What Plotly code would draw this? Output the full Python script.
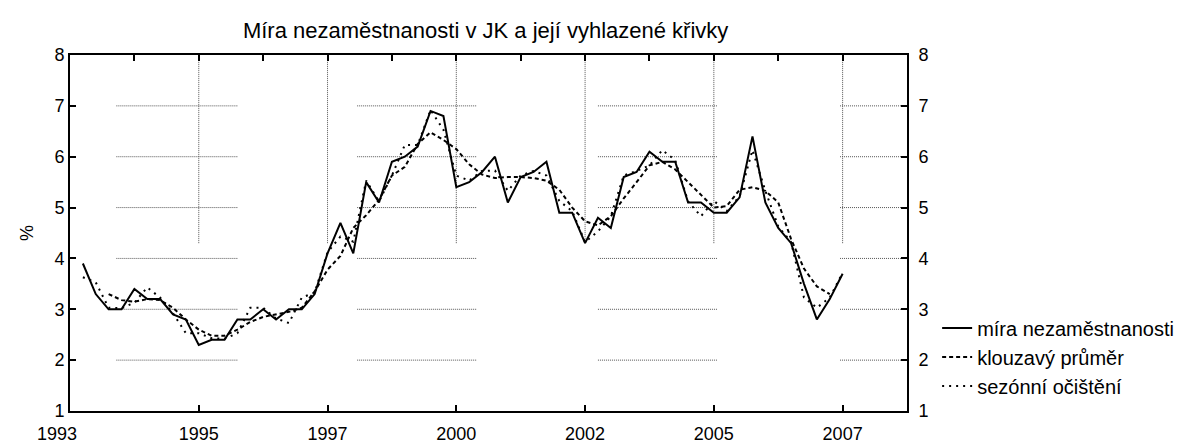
import plotly.graph_objects as go

# ---- data (quarterly observations, index 1..60) ----
obs_index = list(range(1, 61))
mira = [3.9, 3.3, 3.0, 3.0, 3.4, 3.2, 3.2, 2.9, 2.8, 2.3,
        2.4, 2.4, 2.8, 2.8, 3.0, 2.8, 3.0, 3.0, 3.3, 4.1,
        4.7, 4.1, 5.5, 5.1, 5.9, 6.0, 6.2, 6.9, 6.8, 5.4,
        5.5, 5.7, 6.0, 5.1, 5.6, 5.7, 5.9, 4.9, 4.9, 4.3,
        4.8, 4.6, 5.6, 5.7, 6.1, 5.9, 5.9, 5.1, 5.1, 4.9,
        4.9, 5.2, 6.4, 5.1, 4.6, 4.3, 3.5, 2.8, 3.2, 3.7]

ma_index = list(range(3, 60))
klouzavy = [3.30, 3.18, 3.15, 3.20, 3.18, 3.03, 2.80, 2.60, 2.48, 2.48,
            2.60, 2.75, 2.85, 2.90, 2.95, 3.03, 3.35, 3.78, 4.05, 4.60,
            4.85, 5.15, 5.63, 5.80, 6.25, 6.48, 6.33, 6.15, 5.85, 5.65,
            5.58, 5.60, 5.60, 5.58, 5.53, 5.35, 5.00, 4.73, 4.65, 4.83,
            5.18, 5.50, 5.83, 5.90, 5.75, 5.50, 5.25, 5.00, 5.03, 5.35,
            5.40, 5.33, 5.10, 4.38, 3.80, 3.45, 3.30]

sezonni = [3.63, 3.53, 3.03, 3.02, 3.13, 3.43, 3.23, 2.92, 2.53, 2.53,
           2.43, 2.42, 2.53, 3.03, 3.03, 2.82, 2.73, 3.23, 3.33, 4.12,
           4.43, 4.33, 5.53, 5.12, 5.63, 6.23, 6.23, 6.92, 6.53, 5.63,
           5.53, 5.72, 5.73, 5.33, 5.63, 5.72, 5.63, 5.13, 4.93, 4.32,
           4.53, 4.83, 5.63, 5.72, 5.83, 6.13, 5.93, 5.12, 4.83, 5.13,
           4.93, 5.22, 6.13, 5.33, 4.63, 4.32, 3.23, 3.03, 3.23, 3.72]

x_tickvals = [0, 10, 20, 30, 40, 50, 60]
x_ticktext = ["1993", "1995", "1997", "2000", "2002", "2005", "2007"]
y_ticks = [1, 2, 3, 4, 5, 6, 7, 8]

# partial grid (as in the reference)
grid_y = [2, 3, 4, 5, 6, 7]
grid_x_segments = [(3.6, 13.0), (22.3, 31.6), (41.0, 50.3), (59.8, 65.0)]
vgrid_x = [10, 20, 30, 40, 50, 60]
vgrid_from = 4.3

FONT = "Liberation Sans, Arial, sans-serif"

fig = go.Figure()
fig.add_trace(go.Scatter(x=obs_index, y=mira, mode="lines", name="míra nezaměstnanosti",
                         line=dict(color="black", width=2)))
fig.add_trace(go.Scatter(x=ma_index, y=klouzavy, mode="lines", name="klouzavý průměr",
                         line=dict(color="black", width=2, dash="4px,3px")))
fig.add_trace(go.Scatter(x=obs_index, y=sezonni, mode="lines", name="sezónní očištění",
                         line=dict(color="black", width=2, dash="2px,5px")))
# invisible trace to activate right / top axes
fig.add_trace(go.Scatter(x=obs_index, y=mira, xaxis="x2", yaxis="y2", mode="lines",
                         line=dict(color="rgba(0,0,0,0)"), showlegend=False, hoverinfo="skip"))

shapes = []
for gy in grid_y:
    for (a, b) in grid_x_segments:
        shapes.append(dict(type="line", xref="x", yref="y", x0=a, x1=b, y0=gy, y1=gy,
                           line=dict(color="#555555", width=1, dash="1px,1px"), layer="below"))
for gx in vgrid_x:
    shapes.append(dict(type="line", xref="x", yref="y", x0=gx, x1=gx, y0=vgrid_from, y1=8,
                       line=dict(color="#555555", width=1, dash="1px,1px"), layer="below"))

axis_common = dict(showline=True, linecolor="black", linewidth=2, ticks="inside",
                   ticklen=6, tickwidth=1.5, tickcolor="black", showgrid=False, zeroline=False,
                   automargin=False,
                   tickfont=dict(family=FONT, size=18, color="black"))

# first x label sits slightly left of the corner in the reference
bottom_text = [""] + x_ticktext[1:]

fig.update_layout(
    width=1200, height=447,
    paper_bgcolor="white", plot_bgcolor="white",
    margin=dict(l=62, r=301, t=47, b=44),
    title=dict(text="Míra nezaměstnanosti v JK a její vyhlazené křivky", x=0.398, xanchor="center",
               y=0.949, yanchor="middle", font=dict(family=FONT, size=22, color="black")),
    xaxis=dict(range=[0, 65], tickmode="array", tickvals=x_tickvals, ticktext=bottom_text,
               ticklabelstandoff=5, **axis_common),
    xaxis2=dict(range=[0, 65], overlaying="x", side="top", tickmode="array",
                tickvals=list(range(0, 66, 5)), showticklabels=False, **axis_common),
    yaxis=dict(range=[1, 8], tickmode="array", tickvals=y_ticks,
               title=dict(text="%", font=dict(family=FONT, size=18, color="black"), standoff=16),
               **axis_common),
    yaxis2=dict(range=[1, 8], overlaying="y", side="right", tickmode="array", tickvals=y_ticks,
                ticklabelstandoff=6, **axis_common),
    legend=dict(x=1.036, y=0.288, xanchor="left", yanchor="top", bgcolor="rgba(0,0,0,0)",
                font=dict(family=FONT, size=20, color="black"), tracegroupgap=0,
                itemwidth=30),
    shapes=shapes,
    showlegend=True,
    annotations=[dict(x=x_tickvals[0], y=0, xref="x", yref="paper", text=x_ticktext[0],
                      showarrow=False, xanchor="center", yanchor="top", xshift=-13, yshift=-11,
                      font=dict(family=FONT, size=18, color="black"))],
)

fig.write_html("out.html")
